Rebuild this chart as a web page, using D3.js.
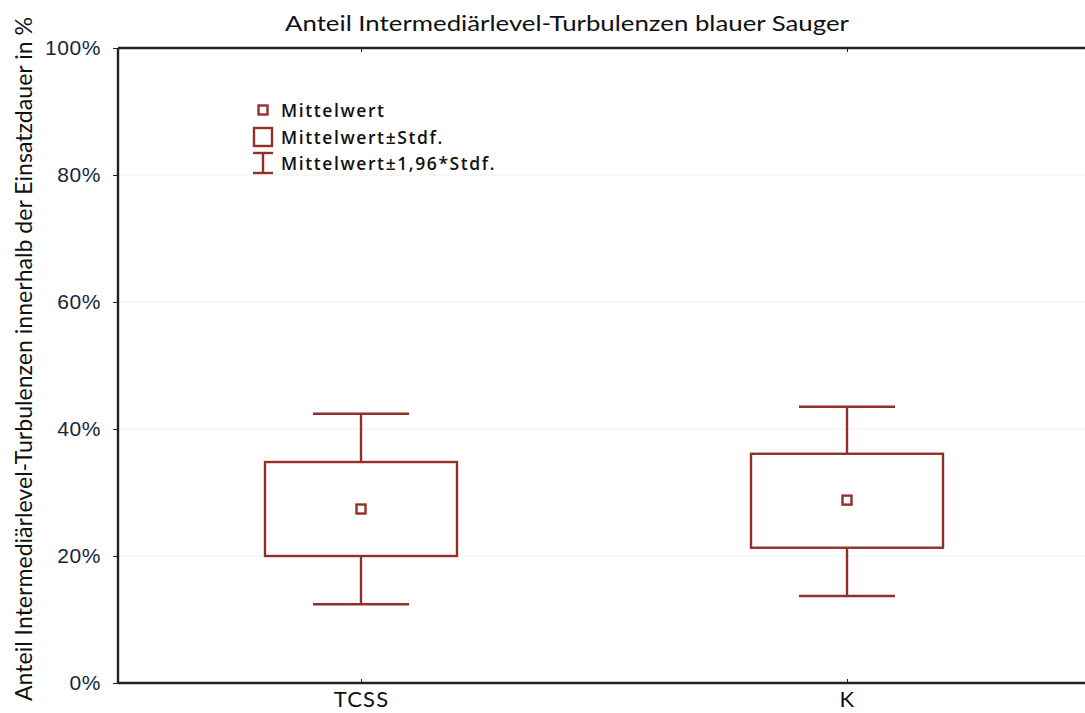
<!DOCTYPE html>
<html><head><meta charset="utf-8">
<script src="https://cdn.jsdelivr.net/npm/d3@7"></script>
<style>body{margin:0;background:#fff}svg{display:block}</style>
</head><body>
<script>
const categories = ["TCSS", "K"];
const lowWhisker = [12.4, 13.7];
const boxLow = [20.0, 21.3];
const means = [27.4, 28.8];
const boxHigh = [34.8, 36.1];
const highWhisker = [42.4, 43.5];
const yTicks = [0, 20, 40, 60, 80, 100];
const legendLabels = ["Mittelwert", "Mittelwert±Stdf.", "Mittelwert±1,96*Stdf."];

const W = 1085, H = 713;
const m = {left: 118, top: 48, right: -5, bottom: 30};
const svg = d3.select("body").append("svg").attr("width", W).attr("height", H);
const x = d3.scalePoint().domain(categories).range([m.left, W - m.right]).padding(0.5);
const y = d3.scaleLinear().domain([0, 100]).range([H - m.bottom, m.top]);
const col = "#932f28";
const font = "Lato, 'Open Sans', sans-serif";

// grid
svg.append("g").selectAll("line").data(yTicks.filter(d => d > 0 && d < 100)).join("line")
  .attr("x1", m.left).attr("x2", W).attr("y1", d => y(d)).attr("y2", d => y(d))
  .attr("stroke", "#efefef").attr("stroke-width", 1);

// y axis
const ya = svg.append("g").attr("transform", `translate(${m.left},0)`)
  .call(d3.axisLeft(y).tickValues(yTicks).tickFormat(d => d + "%").tickSize(5).tickPadding(12));
ya.select(".domain").remove();
ya.selectAll("line").attr("stroke", "#222");
ya.selectAll("text").attr("font-family", "'Liberation Sans', Arial, sans-serif").attr("font-size", 21)
  .attr("fill", "#16233d").attr("letter-spacing", 0.6);
svg.append("line").attr("x1", m.left).attr("x2", m.left).attr("y1", m.top).attr("y2", H - m.bottom)
  .attr("stroke", "#222").attr("stroke-width", 2.4);

// x axis bottom
const xa = svg.append("g").attr("transform", `translate(0,${H - m.bottom})`)
  .call(d3.axisBottom(x).tickSize(-4).tickPadding(7));
xa.select(".domain").remove();
xa.selectAll("line").attr("stroke", "#222");
xa.selectAll("text").attr("font-family", font).attr("font-size", 22).attr("fill", "#111")
  .attr("letter-spacing", 1.2).attr("dy", "0.78em");
svg.append("line").attr("x1", m.left).attr("x2", W).attr("y1", H - m.bottom).attr("y2", H - m.bottom)
  .attr("stroke", "#222").attr("stroke-width", 2.4);
// top axis
const xt = svg.append("g").attr("transform", `translate(0,${m.top})`)
  .call(d3.axisTop(x).tickSize(-4).tickFormat(""));
xt.select(".domain").remove();
xt.selectAll("line").attr("stroke", "#222");
svg.append("line").attr("x1", m.left).attr("x2", W).attr("y1", m.top).attr("y2", m.top)
  .attr("stroke", "#222").attr("stroke-width", 2.4);

// boxes
const boxW = 192, capW = 96, meanS = 9;
const sw = 2.4;
const g = svg.append("g");
categories.forEach((c, i) => {
  const cx = x(c);
  g.append("line").attr("x1", cx).attr("x2", cx).attr("y1", y(highWhisker[i])).attr("y2", y(boxHigh[i])).attr("stroke", col).attr("stroke-width", sw);
  g.append("line").attr("x1", cx).attr("x2", cx).attr("y1", y(boxLow[i])).attr("y2", y(lowWhisker[i])).attr("stroke", col).attr("stroke-width", sw);
  g.append("line").attr("x1", cx - capW/2).attr("x2", cx + capW/2).attr("y1", y(highWhisker[i])).attr("y2", y(highWhisker[i])).attr("stroke", col).attr("stroke-width", sw);
  g.append("line").attr("x1", cx - capW/2).attr("x2", cx + capW/2).attr("y1", y(lowWhisker[i])).attr("y2", y(lowWhisker[i])).attr("stroke", col).attr("stroke-width", sw);
  g.append("rect").attr("x", cx - boxW/2).attr("y", y(boxHigh[i])).attr("width", boxW).attr("height", y(boxLow[i]) - y(boxHigh[i]))
    .attr("fill", "none").attr("stroke", col).attr("stroke-width", sw);
  g.append("rect").attr("x", cx - meanS/2).attr("y", y(means[i]) - meanS/2).attr("width", meanS).attr("height", meanS)
    .attr("fill", "#fff").attr("stroke", col).attr("stroke-width", sw);
});

// legend
const lg = svg.append("g");
lg.append("rect").attr("x", 258.5).attr("y", 105.5).attr("width", 9).attr("height", 9).attr("fill", "none").attr("stroke", col).attr("stroke-width", 2.4);
lg.append("rect").attr("x", 254).attr("y", 128).attr("width", 18).attr("height", 18).attr("fill", "none").attr("stroke", col).attr("stroke-width", 2.4);
lg.append("line").attr("x1", 263).attr("x2", 263).attr("y1", 153).attr("y2", 173).attr("stroke", col).attr("stroke-width", 2.4);
lg.append("line").attr("x1", 253).attr("x2", 273).attr("y1", 153).attr("y2", 153).attr("stroke", col).attr("stroke-width", 2.4);
lg.append("line").attr("x1", 253).attr("x2", 273).attr("y1", 173).attr("y2", 173).attr("stroke", col).attr("stroke-width", 2.4);
lg.selectAll("text").data(legendLabels).join("text")
  .attr("x", 281).attr("y", (d, i) => 117 + i * 26.5)
  .attr("font-family", "'Open Sans', sans-serif").attr("font-size", 17.5).attr("font-weight", 600).attr("fill", "#111")
  .attr("letter-spacing", 1.6).text(d => d);

// title
svg.append("text").attr("x", 567).attr("y", 31).attr("text-anchor", "middle")
  .attr("font-family", font).attr("font-size", 22).attr("fill", "#111")
  .attr("textLength", 564).attr("lengthAdjust", "spacingAndGlyphs")
  .text("Anteil Intermediärlevel-Turbulenzen blauer Sauger");
// y label
svg.append("text").attr("transform", `translate(32,${359}) rotate(-90)`)
  .attr("text-anchor", "middle").attr("font-family", font).attr("font-size", 22.5).attr("fill", "#111")
  .attr("textLength", 684).attr("lengthAdjust", "spacingAndGlyphs")
  .text("Anteil Intermediärlevel-Turbulenzen innerhalb der Einsatzdauer in %");
</script>
</body></html>
